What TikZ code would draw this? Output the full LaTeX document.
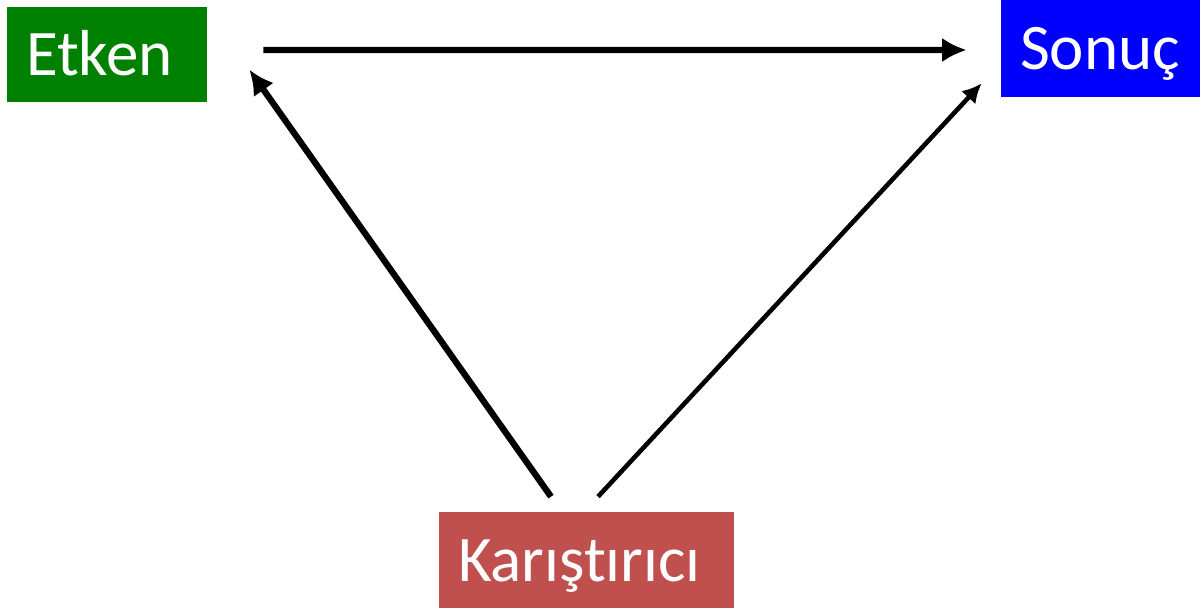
\documentclass[tikz,border=0pt]{standalone}
\usepackage{fontspec}
\setmainfont{Carlito}[Ligatures=NoCommon]
\usetikzlibrary{arrows.meta,calc}
\definecolor{etkengreen}{HTML}{008000}
\definecolor{sonucblue}{HTML}{0000FF}
\definecolor{karisred}{HTML}{C0504D}

\begin{document}
\begin{tikzpicture}[x=0.02cm,y=-0.02cm,>={Latex[length=14pt,width=14pt]}]
  \tikzset{kutu/.style={text=white,inner xsep=0.38cm,inner ysep=0pt,align=left,
      text height=0.86cm,text depth=0pt,font=\fontsize{37}{40}\selectfont}}
  \useasboundingbox (0,0) rectangle (1200,608);
  \node[kutu,fill=etkengreen,minimum width=4cm,minimum height=1.9cm,
    text width=3.24cm] (etken) at (107,54.5) {Etken};
  \node[kutu,fill=sonucblue,minimum width=3.98cm,minimum height=1.94cm,
    text width=3.22cm] (sonuc) at (1100.5,48.5) {Sonuç};
  \node[kutu,fill=karisred,minimum width=5.9cm,minimum height=1.92cm,
    text width=5.14cm] (karis) at (586.5,560) {Karışt\kern0ptırıcı};
  \coordinate (e1) at ($(etken.east)+(56,-4.5)$);
  \coordinate (s1) at ($(sonuc.west)+(-34,1.5)$);
  \coordinate (k1) at ($(karis.north)+(-35.5,-15)$);
  \coordinate (e2) at ($(etken.north east)+(42,63)$);
  \coordinate (k2) at ($(karis.north)+(11.5,-15)$);
  \coordinate (s2) at ($(sonuc.south west)+(-19,-14)$);
  \draw[->,line width=3.6pt] (e1) -- (s1);
  \draw[->,line width=3.6pt] (k1) -- (e2);
  \draw[-{Latex[length=11pt,width=11pt]},line width=2.6pt] (k2) -- (s2);
\end{tikzpicture}
\end{document}
